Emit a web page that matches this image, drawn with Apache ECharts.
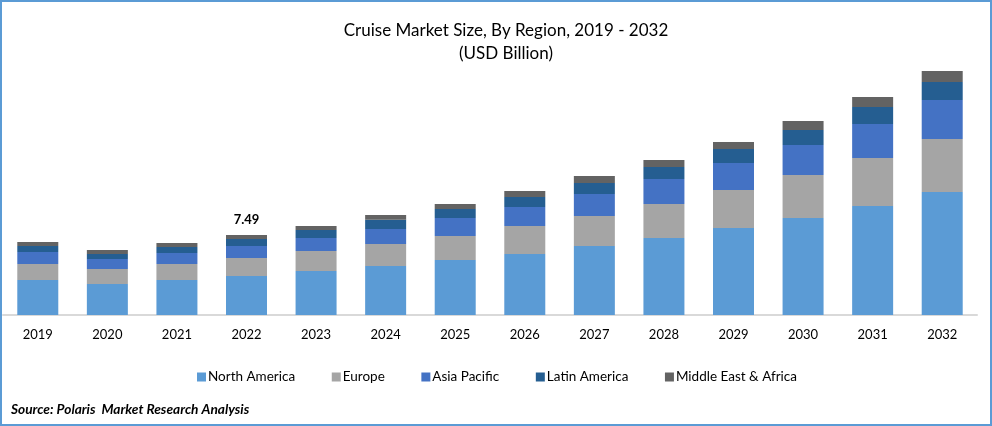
<!DOCTYPE html>
<html>
<head>
<meta charset="utf-8">
<title>Cruise Market Size</title>
<script src="https://cdn.jsdelivr.net/npm/echarts@6/dist/echarts.min.js"></script>
<style>
html, body { margin: 0; padding: 0; background: #fff; }
#main { width: 992px; height: 426px; }
</style>
</head>
<body>
<div id="main"></div>
<script>
var years = ['2019', '2020', '2021', '2022', '2023', '2024', '2025', '2026', '2027', '2028', '2029', '2030', '2031', '2032'];
var northAmerica = [3.28, 2.90, 3.28, 3.65, 4.12, 4.59, 5.15, 5.71, 6.46, 7.21, 8.15, 9.08, 10.21, 11.52];
var europe = [1.50, 1.40, 1.50, 1.69, 1.87, 2.06, 2.25, 2.62, 2.81, 3.18, 3.56, 4.03, 4.49, 4.96];
var asiaPacific = [1.12, 0.94, 1.03, 1.12, 1.22, 1.40, 1.69, 1.78, 2.06, 2.34, 2.53, 2.81, 3.18, 3.65];
var latinAmerica = [0.56, 0.47, 0.56, 0.66, 0.75, 0.87, 0.84, 0.94, 1.03, 1.12, 1.31, 1.40, 1.59, 1.69];
var middleEast = [0.37, 0.37, 0.37, 0.37, 0.37, 0.44, 0.47, 0.56, 0.66, 0.66, 0.66, 0.84, 0.94, 1.03];
var totalLabels = ['', '', '', '7.49', '', '', '', '', '', '', '', '', '', ''];

var fontName = 'Lato';
var textColor = '#000';

function barSeries(name, values, color) {
    return {
        name: name,
        type: 'bar',
        stack: 'total',
        barWidth: 41,
        data: values,
        itemStyle: { color: color },
        emphasis: { disabled: true }
    };
}

var myChart = echarts.init(document.getElementById('main'), null, { renderer: 'canvas' });

var lastSeries = barSeries('Middle East & Africa', middleEast, '#636363');
lastSeries.label = {
    show: true,
    position: 'top',
    distance: 9,
    fontFamily: fontName,
    fontSize: 13,
    fontWeight: 'bold',
    color: textColor,
    formatter: function (p) { return totalLabels[p.dataIndex]; }
};

myChart.setOption({
    animation: false,
    backgroundColor: '#fff',
    title: {
        text: 'Cruise Market Size, By Region, 2019 - 2032\n(USD Billion)',
        left: 501,
        textAlign: 'center',
        top: 14,
        textStyle: {
            fontFamily: fontName,
            fontSize: 17,
            fontWeight: 'normal',
            color: textColor,
            lineHeight: 23
        }
    },
    legend: {
        left: 192,
        top: 365,
        icon: 'rect',
        itemWidth: 9,
        itemHeight: 9,
        itemGap: 36.6,
        textStyle: { fontFamily: fontName, fontSize: 13.5, color: textColor, padding: [0, 0, 0, -3] },
        data: ['North America', 'Europe', 'Asia Pacific', 'Latin America', 'Middle East & Africa']
    },
    grid: { left: 3, right: 15, top: 16, height: 299 },
    xAxis: {
        type: 'category',
        data: years,
        axisTick: { show: false },
        axisLine: { lineStyle: { color: '#d9d9d9', width: 2 } },
        axisLabel: { fontFamily: fontName, fontSize: 13, color: textColor, margin: 13 }
    },
    yAxis: { type: 'value', min: 0, max: 28, show: false },
    series: [
        barSeries('North America', northAmerica, '#5b9bd5'),
        barSeries('Europe', europe, '#a5a5a5'),
        barSeries('Asia Pacific', asiaPacific, '#4472c4'),
        barSeries('Latin America', latinAmerica, '#255e91'),
        lastSeries
    ],
    graphic: [
        {
            type: 'rect',
            silent: true,
            shape: { x: 1, y: 1, width: 990, height: 424 },
            style: { fill: 'none', stroke: '#5b9bd5', lineWidth: 2 }
        },
        {
            type: 'text',
            silent: true,
            left: 11,
            top: 403,
            style: {
                text: 'Source: Polaris  Market Research Analysis',
                font: 'italic bold 13.7px Lato',
                fill: textColor
            }
        }
    ]
});
</script>
</body>
</html>
